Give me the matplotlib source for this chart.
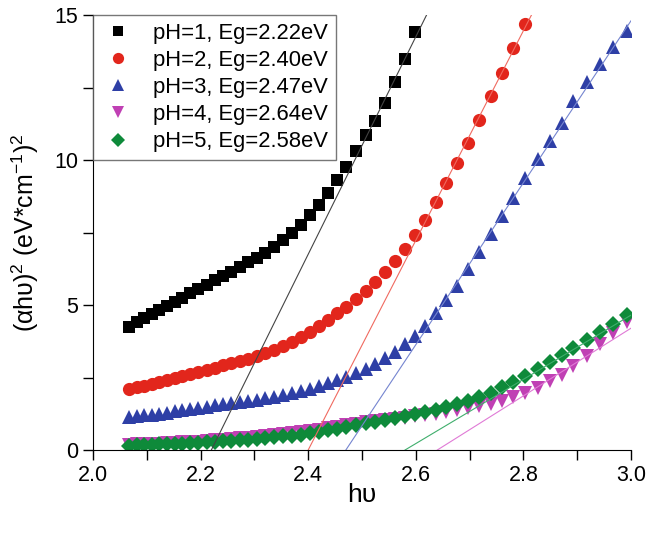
import matplotlib
matplotlib.use('Agg')
import matplotlib.pyplot as plt
from matplotlib.ticker import MultipleLocator

plt.rcParams['font.family'] = ['Liberation Sans', 'DejaVu Sans']
plt.rcParams['mathtext.fontset'] = 'custom'
plt.rcParams['mathtext.rm'] = 'Liberation Sans'
plt.rcParams['mathtext.it'] = 'Liberation Sans:italic'

# photon energy grid (eV), shared by all samples
hv = [2.067, 2.081, 2.095, 2.109, 2.123, 2.137, 2.152, 2.166, 2.181, 2.196,
      2.211, 2.226, 2.242, 2.257, 2.273, 2.288, 2.304, 2.320, 2.336, 2.353,
      2.369, 2.386, 2.403, 2.420, 2.437, 2.454, 2.471, 2.489, 2.507, 2.525,
      2.543, 2.561, 2.579, 2.598, 2.618, 2.638, 2.657, 2.677, 2.697, 2.718,
      2.739, 2.760, 2.781, 2.803, 2.827, 2.849, 2.871, 2.893, 2.918, 2.942,
      2.967, 2.992]

ph1 = [4.25, 4.42, 4.55, 4.68, 4.82, 4.95, 5.10, 5.25, 5.40, 5.55,
       5.70, 5.85, 6.00, 6.15, 6.32, 6.48, 6.62, 6.78, 7.00, 7.24,
       7.47, 7.76, 8.10, 8.45, 8.85, 9.30, 9.75, 10.30, 10.85, 11.35,
       11.95, 12.70, 13.50, 14.40]

ph2 = [2.09, 2.16, 2.22, 2.29, 2.35, 2.42, 2.49, 2.56, 2.63, 2.70,
       2.77, 2.84, 2.92, 2.99, 3.07, 3.14, 3.23, 3.34, 3.46, 3.58,
       3.72, 3.88, 4.06, 4.26, 4.49, 4.71, 4.93, 5.20, 5.48, 5.80,
       6.14, 6.53, 6.94, 7.40, 7.94, 8.56, 9.22, 9.90, 10.60, 11.38,
       12.20, 13.00, 13.85, 14.68]

ph3 = [1.13, 1.16, 1.19, 1.22, 1.25, 1.29, 1.33, 1.37, 1.41, 1.46,
       1.50, 1.54, 1.58, 1.62, 1.66, 1.70, 1.74, 1.79, 1.84, 1.90,
       1.96, 2.03, 2.12, 2.21, 2.31, 2.41, 2.52, 2.64, 2.80, 2.98,
       3.18, 3.38, 3.64, 3.93, 4.29, 4.71, 5.17, 5.66, 6.24, 6.84,
       7.44, 8.07, 8.70, 9.37, 10.02, 10.67, 11.28, 12.05, 12.70, 13.30,
       13.88, 14.45]

ph4 = [0.18, 0.19, 0.20, 0.21, 0.22, 0.23, 0.24, 0.26, 0.27, 0.29,
       0.31, 0.33, 0.35, 0.37, 0.40, 0.42, 0.45, 0.48, 0.51, 0.54,
       0.58, 0.62, 0.66, 0.70, 0.75, 0.80, 0.85, 0.90, 0.95, 1.00,
       1.04, 1.08, 1.12, 1.16, 1.20, 1.25, 1.30, 1.37, 1.44, 1.51,
       1.59, 1.70, 1.82, 1.95, 2.13, 2.38, 2.60, 2.90, 3.25, 3.64,
       4.03, 4.40]

ph5 = [0.15, 0.16, 0.17, 0.18, 0.19, 0.20, 0.21, 0.22, 0.23, 0.25,
       0.26, 0.28, 0.30, 0.32, 0.34, 0.36, 0.38, 0.41, 0.44, 0.47,
       0.50, 0.53, 0.57, 0.62, 0.68, 0.74, 0.80, 0.86, 0.92, 0.98,
       1.04, 1.10, 1.16, 1.23, 1.30, 1.39, 1.47, 1.57, 1.70, 1.84,
       1.98, 2.16, 2.35, 2.54, 2.78, 3.04, 3.28, 3.52, 3.78, 4.06,
       4.35, 4.66]

labels = ['pH=1, Eg=2.22eV', 'pH=2, Eg=2.40eV', 'pH=3, Eg=2.47eV',
          'pH=4, Eg=2.64eV', 'pH=5, Eg=2.58eV']

# linear fits: start at Eg (y=0), end point
fit_x0 = [2.22, 2.40, 2.47, 2.64, 2.58]
fit_x1 = [2.62, 2.815, 3.00, 3.00, 3.00]
fit_y1 = [15.0, 15.0, 14.8, 4.2, 4.65]

series = [ph1, ph2, ph3, ph4, ph5]
markers = ['s', 'o', '^', 'v', 'D']
msizes = [8, 9.5, 10, 10, 8]
colors = ['#000000', '#E2261C', '#2E3FA6', '#C040B4', '#0E8A3A']
fitcolors = ['#444444', '#F06A60', '#7585D0', '#E07AD6', '#3FAE6C']

fig = plt.figure(figsize=(6.66, 5.38), dpi=100)
ax = fig.add_axes([93 / 666, 88 / 538, 538 / 666, 435 / 538])

for i, ys in enumerate(series):
    ax.plot(hv[:len(ys)], ys, linestyle='none', marker=markers[i],
            ms=msizes[i], color=colors[i], mew=0, label=labels[i])

for i in range(5):
    ax.plot([fit_x0[i], fit_x1[i]], [0, fit_y1[i]], color=fitcolors[i], lw=0.8)

ax.set_xlim(2.0, 3.0)
ax.set_ylim(0, 15)
ax.xaxis.set_major_locator(MultipleLocator(0.2))
ax.xaxis.set_minor_locator(MultipleLocator(0.1))
ax.yaxis.set_major_locator(MultipleLocator(5))
ax.yaxis.set_minor_locator(MultipleLocator(2.5))
ax.tick_params(which='both', direction='out', length=7, width=1, labelsize=15.5)
ax.spines['top'].set_visible(False)
ax.spines['right'].set_visible(False)

ax.set_xlabel('hυ', fontsize=19, labelpad=-2)
ax.set_ylabel('(αhυ)$^2$ (eV*cm$^{-1}$)$^2$', fontsize=18, labelpad=10)

leg = ax.legend(loc='upper left', fontsize=15.8, frameon=True, fancybox=False,
                borderaxespad=0.0, handlelength=1.6, handletextpad=0.8,
                labelspacing=0.28, borderpad=0.35, markerscale=0.85)
leg.get_frame().set_edgecolor('#555555')
leg.get_frame().set_linewidth(1.0)

fig.savefig('out.png', dpi=100)
